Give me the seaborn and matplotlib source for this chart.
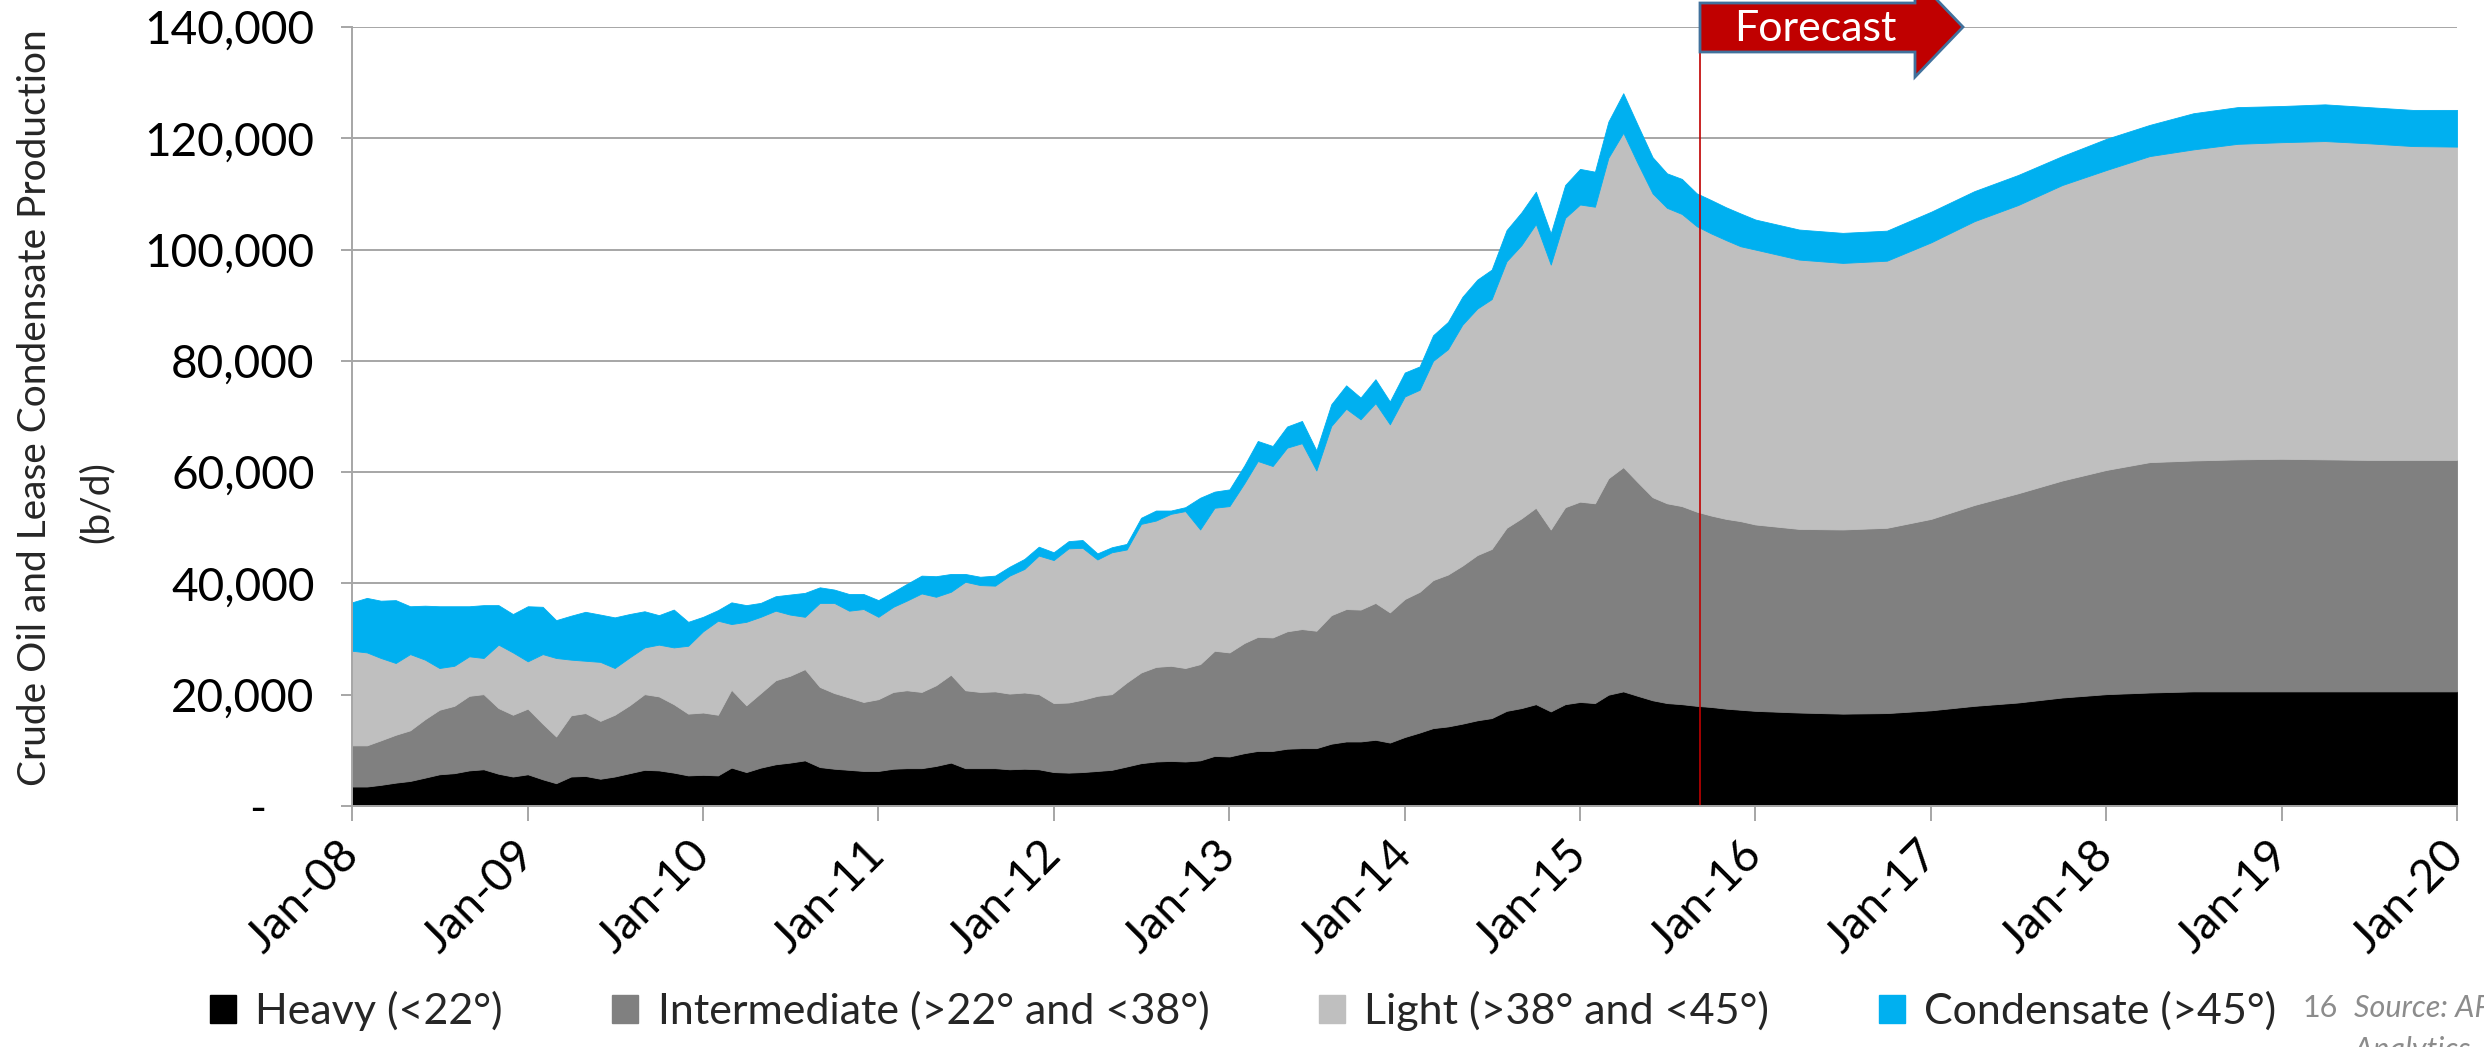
import numpy as np
import pandas as pd
import matplotlib
matplotlib.use("Agg")
import matplotlib.pyplot as plt
from matplotlib.patches import Patch, Polygon
from matplotlib.ticker import FuncFormatter
import seaborn as sns

# monthly history Jan-08 .. Jan-16, then quarterly forecast points up to Jan-20
dates = list(pd.date_range("2008-01-01", "2016-01-01", freq="MS")) + \
    list(pd.date_range("2016-04-01", "2020-01-01", freq="3MS"))

# top edge of each stacked layer, thousand b/d
heavy_top = [
    3.5, 3.5, 3.8, 4.2, 4.5, 5.1, 5.7, 5.9, 6.4, 6.6, 5.8, 5.3, 5.7, 4.8, 4.1, 5.3, 5.4, 4.9, 5.3, 5.9, 6.5, 6.4, 6.0, 5.5, 5.6,
    5.5, 6.9, 6.1, 6.9, 7.5, 7.8, 8.2, 7.0, 6.7, 6.5, 6.3, 6.3, 6.7, 6.8, 6.8, 7.2, 7.8, 6.8, 6.8, 6.8, 6.6, 6.7, 6.6, 6.1,
    6.0, 6.1, 6.3, 6.5, 7.1, 7.7, 8.0, 8.1, 8.0, 8.2, 9.0, 8.9, 9.5, 9.9, 9.9, 10.3, 10.4, 10.4, 11.2, 11.6, 11.6, 11.9, 11.4, 12.4,
    13.2, 14.0, 14.3, 14.8, 15.4, 15.8, 17.1, 17.6, 18.3, 17.0, 18.3, 18.7, 18.5, 20.0, 20.6, 19.8, 19.0, 18.5, 18.3, 18.0, 17.8, 17.5, 17.3, 17.1,
    16.8, 16.6, 16.7, 17.2, 18.0, 18.6, 19.5, 20.1, 20.4, 20.6, 20.6, 20.6, 20.6, 20.6, 20.6, 20.6,
]
intermediate_top = [
    10.9, 10.9, 11.8, 12.8, 13.6, 15.6, 17.3, 18.0, 19.8, 20.1, 17.6, 16.4, 17.5, 14.8, 12.5, 16.3, 16.7, 15.3, 16.4, 18.1, 20.1, 19.7, 18.3, 16.6, 16.8,
    16.4, 20.9, 18.1, 20.3, 22.6, 23.4, 24.6, 21.4, 20.3, 19.5, 18.7, 19.2, 20.5, 20.8, 20.5, 21.7, 23.6, 20.8, 20.5, 20.6, 20.2, 20.4, 20.1, 18.5,
    18.6, 19.1, 19.8, 20.1, 22.2, 24.0, 25.0, 25.2, 24.8, 25.5, 27.9, 27.6, 29.3, 30.4, 30.3, 31.4, 31.8, 31.5, 34.3, 35.4, 35.3, 36.5, 34.8, 37.2,
    38.5, 40.6, 41.6, 43.2, 45.1, 46.2, 50.0, 51.7, 53.6, 49.7, 53.7, 54.7, 54.4, 58.9, 60.9, 58.2, 55.5, 54.4, 53.9, 52.9, 52.2, 51.6, 51.2, 50.6,
    49.8, 49.7, 50.0, 51.6, 54.1, 56.2, 58.5, 60.4, 61.8, 62.1, 62.3, 62.4, 62.3, 62.2, 62.2, 62.2,
]
light_top = [
    27.9, 27.6, 26.6, 25.7, 27.3, 26.3, 24.8, 25.2, 26.9, 26.6, 29.0, 27.6, 26.0, 27.3, 26.6, 26.3, 26.1, 25.9, 24.8, 26.7, 28.5, 29.0, 28.5, 28.8, 31.4,
    33.3, 32.7, 33.1, 34.0, 35.1, 34.4, 34.0, 36.5, 36.5, 35.1, 35.4, 34.0, 35.8, 36.9, 38.2, 37.6, 38.5, 40.3, 39.7, 39.6, 41.4, 42.6, 45.0, 44.2,
    46.3, 46.4, 44.3, 45.6, 46.1, 50.7, 51.3, 52.5, 53.0, 49.7, 53.6, 53.9, 58.0, 62.0, 61.1, 64.4, 65.2, 60.3, 68.3, 71.4, 69.5, 72.4, 68.6, 73.6,
    74.8, 80.0, 82.1, 86.5, 89.4, 91.1, 97.9, 100.8, 104.6, 97.3, 105.7, 108.1, 107.7, 116.5, 121.0, 115.5, 110.1, 107.5, 106.4, 104.2, 102.9, 101.7, 100.6, 100.0,
    98.2, 97.6, 98.0, 101.3, 105.1, 108.0, 111.6, 114.3, 116.8, 118.0, 119.0, 119.3, 119.5, 119.1, 118.6, 118.5,
]
total_top = [
    36.6, 37.4, 36.9, 37.0, 35.9, 36.0, 35.9, 35.9, 35.9, 36.1, 36.1, 34.5, 35.9, 35.8, 33.4, 34.2, 34.9, 34.4, 33.9, 34.5, 35.0, 34.3, 35.3, 33.1, 34.0,
    35.2, 36.6, 36.1, 36.5, 37.7, 38.0, 38.3, 39.3, 38.9, 38.1, 38.1, 37.0, 38.5, 39.9, 41.4, 41.3, 41.7, 41.7, 41.2, 41.4, 43.0, 44.4, 46.6, 45.6,
    47.6, 47.8, 45.4, 46.5, 47.1, 51.8, 53.1, 53.1, 53.7, 55.4, 56.5, 56.9, 61.2, 65.6, 64.7, 68.2, 69.2, 63.9, 72.2, 75.6, 73.4, 76.7, 72.7, 77.9,
    79.0, 84.6, 87.0, 91.5, 94.6, 96.4, 103.5, 106.7, 110.4, 102.9, 111.6, 114.5, 114.0, 123.0, 128.1, 122.4, 116.6, 113.7, 112.7, 110.1, 108.9, 107.6, 106.5, 105.4,
    103.6, 103.0, 103.4, 106.8, 110.5, 113.4, 116.8, 119.9, 122.4, 124.5, 125.6, 125.8, 126.1, 125.6, 125.1, 125.1,
]

labels = ["Heavy (<22°)", "Intermediate (>22° and <38°)", "Light (>38° and <45°)", "Condensate (>45°)"]
colors = ["#000000", "#808080", "#BFBFBF", "#00B0F0"]
year_labels = ["Jan-08", "Jan-09", "Jan-10", "Jan-11", "Jan-12", "Jan-13", "Jan-14",
               "Jan-15", "Jan-16", "Jan-17", "Jan-18", "Jan-19", "Jan-20"]
forecast_start = pd.Timestamp("2015-09-07")

sns.set_theme(style="white")
plt.rcParams["font.family"] = ["Lato", "DejaVu Sans"]

W, H = 2484, 1047
tops = np.array([heavy_top, intermediate_top, light_top, total_top]) * 1000
layers = np.diff(np.vstack([np.zeros(len(dates)), tops]), axis=0)

fig = plt.figure(figsize=(W / 100, H / 100), dpi=100)
ax = fig.add_axes([352 / W, 1 - 806 / H, (2457 - 352) / W, (806 - 27) / H])

polys = ax.stackplot(dates, layers, colors=colors, labels=labels)
for p, c in zip(polys, colors):
    p.set_edgecolor(c)
    p.set_linewidth(0.6)

grid_c = "#A6A6A6"
ax.set_axisbelow(True)
ax.yaxis.grid(True, color=grid_c, lw=1.4)
ax.xaxis.grid(False)
for s in ["top", "right"]:
    ax.spines[s].set_visible(False)
for s in ["left", "bottom"]:
    ax.spines[s].set_color(grid_c)
    ax.spines[s].set_linewidth(1.4)

ax.set_xlim(dates[0], dates[-1])
ax.set_ylim(0, 140000)
ax.set_yticks(np.arange(0, 140001, 20000))
ax.yaxis.set_major_formatter(FuncFormatter(lambda v, pos: "-    " if v == 0 else f"{v:,.0f}"))
ax.set_xticks(pd.date_range("2008-01-01", "2020-01-01", freq="YS"))
ax.set_xticklabels(year_labels, rotation=45, ha="right", va="center", rotation_mode="anchor")
ax.tick_params(axis="x", bottom=True, length=11, width=1.4, color=grid_c, pad=19, labelsize=33, labelcolor="black")
ax.tick_params(axis="y", left=True, length=8, width=1.4, color=grid_c, pad=19, labelsize=33, labelcolor="black")

# forecast marker
ax.axvline(forecast_start, ymax=0.968, color="#C00000", lw=1.2)
pts = [(1700, 3), (1915, 3), (1915, -23), (1963, 27), (1915, 77), (1915, 52), (1700, 52)]
arrow = Polygon([(x / W, 1 - y / H) for x, y in pts], closed=True, transform=fig.transFigure,
                facecolor="#C00000", edgecolor="#41719C", lw=2, clip_on=False)
fig.patches.append(arrow)
fig.text(1815 / W, 1 - 29 / H, "Forecast", color="white", fontsize=31, ha="center", va="center")

# axis title
fig.text(35 / W, 1 - 408 / H, "Crude Oil and Lease Condensate Production", rotation=90,
         fontsize=28, ha="center", va="center")
fig.text(97 / W, 1 - 502 / H, "(b/d)", rotation=90, fontsize=28, ha="center", va="center")

handles = [Patch(facecolor=c, edgecolor=c, label=l) for c, l in zip(colors, labels)]
fig.legend(handles=handles, loc="center", bbox_to_anchor=(1243 / W, 1 - 1011 / H), ncol=4,
           frameon=False, fontsize=31, handlelength=0.6, handleheight=0.6,
           handletextpad=0.45, columnspacing=2.55, borderpad=0, borderaxespad=0)

fig.text(2303 / W, 1 - 994 / H, "16", color="#8C8C8C", fontsize=22, va="top")
fig.text(2354 / W, 1 - 994 / H, "Source: AP\nAnalytics", color="#8C8C8C", fontsize=22,
         style="italic", va="top", linespacing=1.6)

fig.savefig("out.png", dpi=100)
